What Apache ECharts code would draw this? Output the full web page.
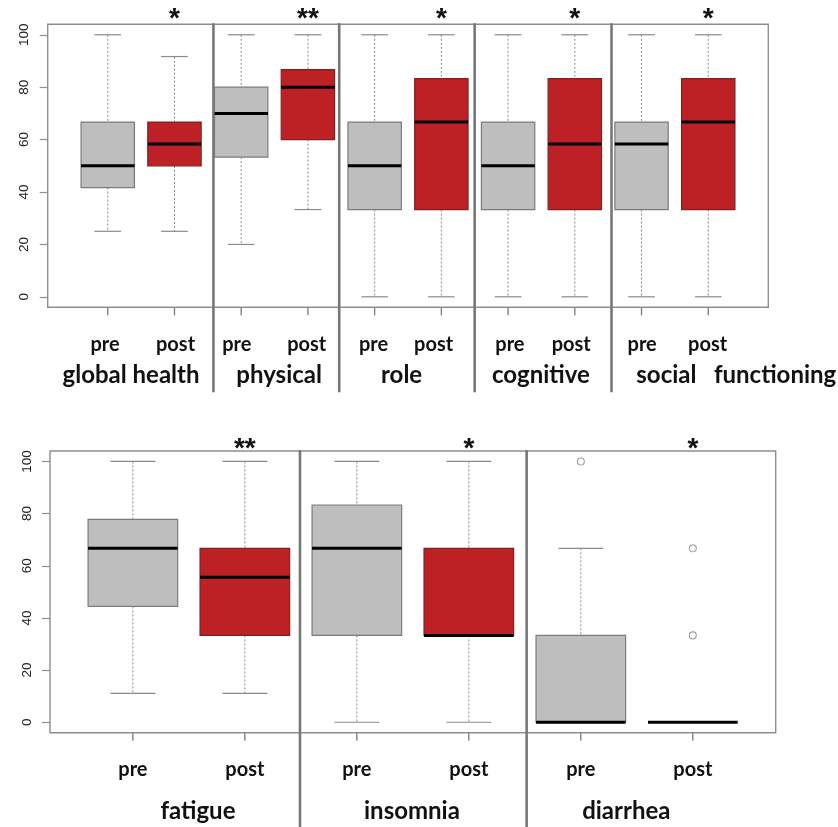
<!DOCTYPE html>
<html>
<head>
<meta charset="utf-8">
<script src="https://cdn.jsdelivr.net/npm/echarts@6/dist/echarts.min.js"></script>
<style>
  html, body { margin: 0; padding: 0; background: #ffffff; }
  #chart { width: 838px; height: 827px; }
</style>
</head>
<body>
<div id="chart"></div>
<script>
// Box statistics, one row per box: [lower whisker, Q1, median, Q3, upper whisker]
const timepoints = ['pre', 'post'];
const yTicks = [0, 20, 40, 60, 80, 100];

// Functioning scales (upper panel)
const topScales = ['global health', 'physical', 'role', 'cognitive', 'social   functioning'];
const topPre = [
  [25, 41.7, 50, 66.7, 100],
  [20, 53.3, 70, 80, 100],
  [0, 33.3, 50, 66.7, 100],
  [0, 33.3, 50, 66.7, 100],
  [0, 33.3, 58.3, 66.7, 100]
];
const topPost = [
  [25, 50, 58.3, 66.7, 91.7],
  [33.3, 60, 80, 86.7, 100],
  [0, 33.3, 66.7, 83.3, 100],
  [0, 33.3, 58.3, 83.3, 100],
  [0, 33.3, 66.7, 83.3, 100]
];
const topPreOutliers = [[], [], [], [], []];
const topPostOutliers = [[], [], [], [], []];
const topSignif = ['*', '**', '*', '*', '*'];

// Symptom scales (lower panel)
const bottomScales = ['fatigue', 'insomnia', 'diarrhea'];
const bottomPre = [
  [11.1, 44.4, 66.7, 77.8, 100],
  [0, 33.3, 66.7, 83.3, 100],
  [0, 0, 0, 33.3, 66.7]
];
const bottomPost = [
  [11.1, 33.3, 55.6, 66.7, 100],
  [0, 33.3, 33.3, 66.7, 100],
  [0, 0, 0, 0, 0]
];
const bottomPreOutliers = [[], [], [100]];
const bottomPostOutliers = [[], [], [66.7, 33.3]];
const bottomSignif = ['**', '*', '*'];

// Panel geometry (pixels) and x positions (box units) of dividers and labels
const PANELS = [
  {
    grid: { left: 47.7, top: 24.3, width: 720.6, height: 283 },
    xMin: 0.1, xMax: 10.9,
    dividers: [2.584, 4.469, 6.499, 8.55], dividerDrop: 85,
    tickLabelAt: [0.96, 2.016, 2.935, 3.982, 4.984, 5.884, 7.027, 7.946, 9.01, 9.99],
    scaleLabelAt: [1.349, 3.569, 5.404, 7.492, 10.42],
    tickMargin: 27, scaleMargin: 56, starLift: 5,
    scales: topScales, pre: topPre, post: topPost,
    preOut: topPreOutliers, postOut: topPostOutliers, signif: topSignif
  },
  {
    grid: { left: 50, top: 451, width: 725.7, height: 281.7 },
    xMin: 0.26, xMax: 6.74,
    dividers: [2.492, 4.516], dividerDrop: 100,
    tickLabelAt: [1, 2, 3, 4, 5, 6],
    scaleLabelAt: [1.581, 3.492, 5.406],
    tickMargin: 27, scaleMargin: 67, starLift: 2,
    scales: bottomScales, pre: bottomPre, post: bottomPost,
    preOut: bottomPreOutliers, postOut: bottomPostOutliers, signif: bottomSignif
  }
];

const Y_MIN = -4, Y_MAX = 104;
const BOX_WIDTH = 0.8;
const TICK_LEN = 8;
const FILLS = ['#bebebe', '#bd2126'];
const BORDERS = ['#7c7c7c', '#7d2323'];
const WHISKER = '#8a8a8a';
const FRAME = '#8e8e8e';
const TICK = '#777777';
const DIVIDER = '#777777';
const LABEL_FONT = '"Lato", "Open Sans", sans-serif';

function renderBox(params, api) {
  const x = api.value(0);
  const lo = api.coord([x, api.value(1)]);
  const q1 = api.coord([x, api.value(2)]);
  const md = api.coord([x, api.value(3)]);
  const q3 = api.coord([x, api.value(4)]);
  const hi = api.coord([x, api.value(5)]);
  const t = api.value(6);
  const w = api.size([BOX_WIDTH, 0])[0];
  const cx = lo[0];
  const dashed = { stroke: WHISKER, lineWidth: 1, lineDash: [2, 2] };
  const solid = { stroke: WHISKER, lineWidth: 1.2 };
  return {
    type: 'group',
    children: [
      { type: 'line', shape: { x1: cx, y1: hi[1], x2: cx, y2: q3[1] }, style: dashed },
      { type: 'line', shape: { x1: cx, y1: q1[1], x2: cx, y2: lo[1] }, style: dashed },
      { type: 'line', shape: { x1: cx - w / 4, y1: hi[1], x2: cx + w / 4, y2: hi[1] }, style: solid },
      { type: 'line', shape: { x1: cx - w / 4, y1: lo[1], x2: cx + w / 4, y2: lo[1] }, style: solid },
      {
        type: 'rect',
        shape: { x: cx - w / 2, y: q3[1], width: w, height: q1[1] - q3[1] },
        style: { fill: FILLS[t], stroke: BORDERS[t], lineWidth: 1.2 }
      },
      { type: 'line', shape: { x1: cx - w / 2, y1: md[1], x2: cx + w / 2, y2: md[1] }, style: { stroke: '#000', lineWidth: 3 } }
    ]
  };
}

const option = {
  animation: false,
  backgroundColor: '#ffffff',
  grid: [], xAxis: [], yAxis: [], series: []
};

PANELS.forEach((p, gi) => {
  option.grid.push(Object.assign({
    show: true, borderColor: FRAME, borderWidth: 1.4, backgroundColor: 'transparent',
    containLabel: false, outerBoundsMode: 'none'
  }, p.grid));

  option.xAxis.push({
    type: 'value', gridIndex: gi, min: p.xMin, max: p.xMax, position: 'bottom',
    axisLine: { show: false, onZero: false }, splitLine: { show: false },
    axisTick: { show: false }, axisLabel: { show: false }
  });
  option.yAxis.push({
    type: 'value', gridIndex: gi, min: Y_MIN, max: Y_MAX,
    axisLine: { show: false, onZero: false }, splitLine: { show: false },
    axisTick: { show: true, customValues: yTicks, length: TICK_LEN, lineStyle: { color: FRAME, width: 1.2 } },
    axisLabel: {
      show: true, customValues: yTicks, rotate: 90, margin: 16,
      fontFamily: 'Liberation Sans', fontSize: 13.5, color: '#222'
    }
  });

  const positions = Array.from({ length: p.scales.length * 2 }, (_, i) => i + 1);

  // vertical dividers between scales
  option.series.push({
    type: 'custom', xAxisIndex: gi, yAxisIndex: gi, silent: true, clip: false,
    data: p.dividers.map(d => [d, Y_MAX]),
    encode: { x: 0, y: 1 },
    renderItem: (params, api) => {
      const top = api.coord([api.value(0), Y_MAX]);
      const bot = api.coord([api.value(0), Y_MIN]);
      return {
        type: 'line',
        shape: { x1: top[0], y1: top[1] - 1, x2: top[0], y2: bot[1] + p.dividerDrop },
        style: { stroke: DIVIDER, lineWidth: 2.6 }
      };
    }
  });

  // x ticks below the frame at each box position
  option.series.push({
    type: 'custom', xAxisIndex: gi, yAxisIndex: gi, silent: true, clip: false, z: 20,
    data: positions.map(x => [x, Y_MIN]),
    encode: { x: 0, y: 1 },
    renderItem: (params, api) => {
      const bot = api.coord([api.value(0), Y_MIN]);
      return {
        type: 'line',
        shape: { x1: bot[0], y1: bot[1] + 0.5, x2: bot[0], y2: bot[1] + TICK_LEN },
        style: { stroke: TICK, lineWidth: 1.3 }
      };
    }
  });

  // timepoint labels and scale names under the frame
  const labelData = p.tickLabelAt.map((x, i) => [x, Y_MIN, 0, i])
    .concat(p.scaleLabelAt.map((x, i) => [x, Y_MIN, 1, i]));
  option.series.push({
    type: 'custom', xAxisIndex: gi, yAxisIndex: gi, silent: true, clip: false,
    data: labelData,
    encode: { x: 0, y: 1 },
    renderItem: (params, api) => {
      const bot = api.coord([api.value(0), Y_MIN]);
      const kind = api.value(2);
      const idx = api.value(3);
      const isScale = kind === 1;
      return {
        type: 'text',
        style: {
          text: isScale ? p.scales[idx] : timepoints[idx % 2],
          x: bot[0], y: bot[1] + (isScale ? p.scaleMargin : p.tickMargin),
          align: 'center', verticalAlign: 'top',
          font: 'bold ' + (isScale ? 24 : 20) + 'px ' + LABEL_FONT, fill: '#111'
        }
      };
    }
  });

  // boxes
  const boxData = [];
  p.scales.forEach((_, s) => {
    boxData.push([2 * s + 1].concat(p.pre[s], [0]));
    boxData.push([2 * s + 2].concat(p.post[s], [1]));
  });
  option.series.push({
    type: 'custom', xAxisIndex: gi, yAxisIndex: gi, silent: true,
    data: boxData,
    encode: { x: 0, y: [1, 2, 3, 4, 5] },
    renderItem: renderBox
  });

  // outliers
  const outData = [];
  p.scales.forEach((_, s) => {
    p.preOut[s].forEach(v => outData.push([2 * s + 1, v]));
    p.postOut[s].forEach(v => outData.push([2 * s + 2, v]));
  });
  option.series.push({
    type: 'scatter', xAxisIndex: gi, yAxisIndex: gi, silent: true,
    symbol: 'circle', symbolSize: 7,
    itemStyle: { color: '#ffffff', borderColor: WHISKER, borderWidth: 1.1 },
    data: outData
  });

  // significance markers above the post boxes
  option.series.push({
    type: 'custom', xAxisIndex: gi, yAxisIndex: gi, silent: true, clip: false,
    data: p.signif.map((_, s) => [2 * s + 2, Y_MAX]),
    encode: { x: 0, y: 1 },
    renderItem: (params, api) => {
      const pt = api.coord([api.value(0), api.value(1)]);
      return {
        type: 'text',
        style: {
          text: p.signif[params.dataIndex], x: pt[0], y: pt[1] - p.starLift,
          align: 'center', verticalAlign: 'middle',
          font: 'bold 28px "Liberation Sans"', fill: '#111'
        }
      };
    }
  });
});

const chart = echarts.init(document.getElementById('chart'), null, { renderer: 'canvas' });
chart.setOption(option);
</script>
</body>
</html>
